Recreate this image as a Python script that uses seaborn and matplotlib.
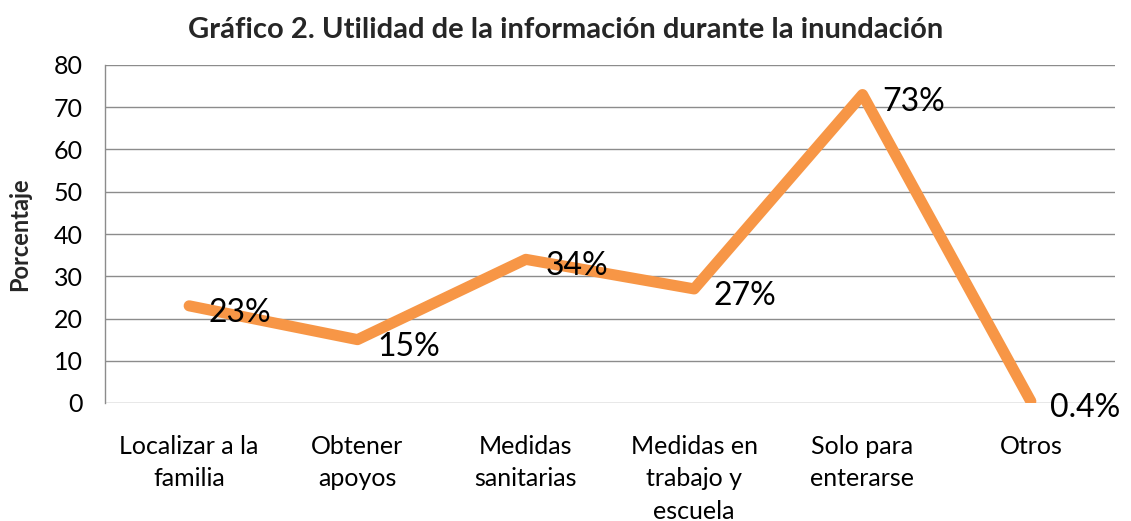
import matplotlib
matplotlib.use("Agg")
import matplotlib.pyplot as plt
import seaborn as sns
import pandas as pd

categories = ["Localizar a la\nfamilia", "Obtener\napoyos", "Medidas\nsanitarias",
              "Medidas en\ntrabajo y\nescuela", "Solo para\nenterarse", "Otros"]
values = [23, 15, 34, 27, 73, 0.4]
value_labels = ["23%", "15%", "34%", "27%", "73%", "0.4%"]
yticks = [0, 10, 20, 30, 40, 50, 60, 70, 80]

sns.set_theme(style="white")
plt.rcParams['font.family'] = ['Lato', 'DejaVu Sans']

df = pd.DataFrame({"cat": categories, "val": values})

fig = plt.figure(figsize=(11.31, 5.21), dpi=100)
ax = fig.add_axes([105/1131, 1-403/521, (1115-105)/1131, (403-65)/521])

sns.lineplot(data=df, x="cat", y="val", sort=False, ax=ax, color="#F79646",
             linewidth=8, solid_capstyle="round", solid_joinstyle="round")

for i, (v, lab) in enumerate(zip(values, value_labels)):
    ax.annotate(lab, (i, v), xytext=(14, -5), textcoords="offset points",
                ha="left", va="center", fontsize=23, color="#000000")

ax.set_xlim(-0.5, len(categories) - 0.5)
ax.set_ylim(0, 80)
ax.set_yticks(yticks)
ax.set_yticklabels([str(t) for t in yticks])
ax.yaxis.grid(True, color="#8c8c8c", linewidth=1.0)
ax.set_axisbelow(True)
for s in ["top", "right", "bottom"]:
    ax.spines[s].set_visible(False)
ax.spines["left"].set_color("#8c8c8c")
ax.spines["left"].set_linewidth(1.0)
ax.tick_params(axis="both", length=0, labelsize=18, colors="#000000")
ax.tick_params(axis="y", pad=16)
ax.tick_params(axis="x", pad=23)
for t in ax.get_xticklabels():
    t.set_linespacing(1.5)

ax.set_xlabel("")
ax.set_ylabel("Porcentaje", fontsize=17, fontweight="bold", labelpad=16)
fig.text(0.5, 1-30/521, "Gráfico 2. Utilidad de la información durante la inundación",
         ha="center", va="center", fontsize=21, fontweight="bold")

fig.savefig("out.png", dpi=100)
